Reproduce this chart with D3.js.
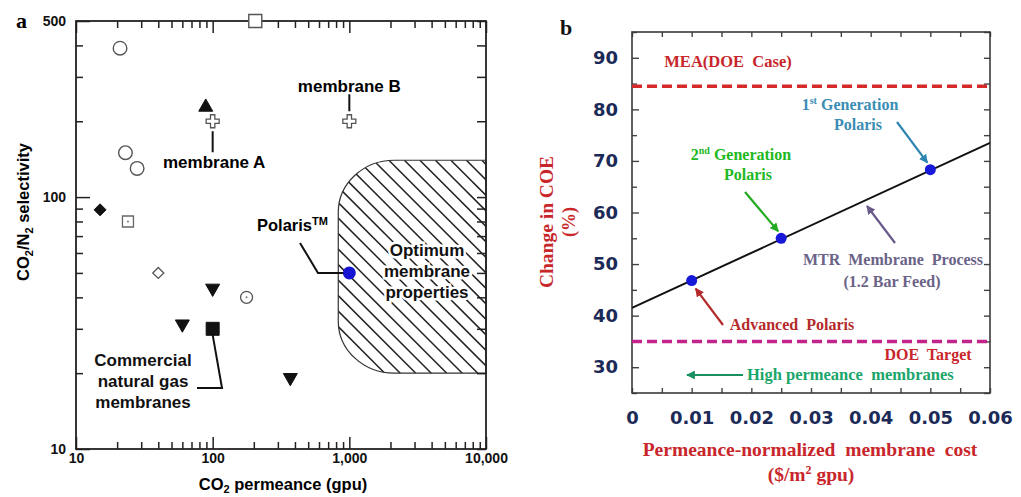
<!DOCTYPE html>
<html>
<head>
<meta charset="utf-8">
<script src="https://cdn.jsdelivr.net/npm/d3@7"></script>
<style>
  body { margin: 0; background: #fff; }
  svg { display: block; }
  text { white-space: pre; }
  .sans { font-family: "Liberation Sans", Arial, sans-serif; font-weight: bold; }
  .serif { font-family: "Liberation Serif", "Times New Roman", serif; font-weight: bold; }
  .num { font-family: "DejaVu Sans", Verdana, sans-serif; font-weight: bold; }
</style>
</head>
<body>
<svg id="fig" width="1021" height="497"></svg>
<script>
// ---- panel a : CO2/N2 selectivity vs CO2 permeance (one array per marker series)
const openCircles = [[21, 390], [23, 150], [28, 130]];
const dottedCircles = [[177, 40]];
const openSquares = [[205, 500]];
const dottedSquares = [[24, 80]];
const triUp = [[89, 230]];
const triDown = [[100, 43], [60, 31], [370, 19]];
const filledSquares = [[100, 30]];
const filledDiamonds = [[15, 89]];
const openDiamonds = [[40, 50]];
const membranes = [[100, 200], [1000, 200]];   // membrane A, membrane B
const polaris = [[1000, 50]];
const optimumPerm = [830, 10000];
const optimumSel = [20, 140];
const xMajorA = [10, 100, 1000, 10000];
const yMajorA = [10, 100, 500];

// ---- panel b : change in COE vs membrane cost
const costB = [0.01, 0.025, 0.05];
const coeB = [46.8, 55.0, 68.3];
const fitCost = [0, 0.06];
const fitCoe = [41.5, 73.5];
const meaCase = 84.5;
const doeTarget = 35;
const xTicksB = [0, 0.01, 0.02, 0.03, 0.04, 0.05, 0.06];
const yTicksB = [30, 40, 50, 60, 70, 80, 90];

const svg = d3.select('#fig');

// ================= panel a =================
const xA = d3.scaleLog().domain([10, 10000]).range([76, 486]);
const yA = d3.scaleLog().domain([10, 500]).range([449, 21]);

const minorXA = [];
[10, 100, 1000].forEach(b => { for (let k = 2; k <= 9; k++) minorXA.push(b * k); });
const minorYA = [];
[10, 100].forEach(b => { for (let k = 2; k <= 9; k++) if (b * k < 500) minorYA.push(b * k); });
const allXA = xMajorA.concat(minorXA);
const allYA = yMajorA.concat(minorYA);
const majX = d => xMajorA.includes(d);
const majY = d => yMajorA.includes(d);

const gA = svg.append('g');

// hatched "optimum" region
const L = xA(optimumPerm[0]), R = xA(optimumPerm[1]);
const T = yA(optimumSel[1]), B = yA(optimumSel[0]);
const rx = 56, ry = 52;
const regionPath = `M${R},${T} H${L + rx} A${rx},${ry} 0 0 0 ${L},${T + ry} V${B - ry} A${rx},${ry} 0 0 0 ${L + rx},${B} H${R} Z`;
svg.append('defs').append('clipPath').attr('id', 'optClip').append('path').attr('d', regionPath);
const hatch = gA.append('g').attr('clip-path', 'url(#optClip)');
const H = B - T;
d3.range(L - H, R + 16, 15.5).forEach(x0 => {
  hatch.append('line').attr('x1', x0).attr('y1', T).attr('x2', x0 + H).attr('y2', B)
    .attr('stroke', '#222').attr('stroke-width', 1.5);
});
gA.append('path').attr('d', regionPath).attr('fill', 'none').attr('stroke', '#333').attr('stroke-width', 1.2);

// axes (ticks inward on all four sides)
const fmtA = d3.format(',');
const bottomA = gA.append('g').attr('transform', `translate(0,${yA(10)})`)
  .call(d3.axisBottom(xA).tickValues(allXA).tickSize(0).tickPadding(4)
    .tickFormat(d => majX(d) ? fmtA(d) : ''));
bottomA.selectAll('.tick line').attr('y2', d => majX(d) ? -12 : -7);
const topA = gA.append('g').attr('transform', `translate(0,${yA(500)})`)
  .call(d3.axisTop(xA).tickValues(allXA).tickSize(0).tickFormat(''));
topA.selectAll('.tick line').attr('y2', d => majX(d) ? 12 : 7);
const leftA = gA.append('g').attr('transform', `translate(${xA(10)},0)`)
  .call(d3.axisLeft(yA).tickValues(allYA).tickSize(0).tickPadding(10)
    .tickFormat(d => majY(d) ? d : ''));
leftA.selectAll('.tick line').attr('x2', d => majY(d) ? 14 : 7);
const rightA = gA.append('g').attr('transform', `translate(${xA(10000)},0)`)
  .call(d3.axisRight(yA).tickValues(allYA).tickSize(0).tickFormat(''));
rightA.selectAll('.tick line').attr('x2', -9);
[bottomA, topA, leftA, rightA].forEach(a => {
  a.select('.domain').remove();
  a.selectAll('.tick line').attr('stroke', '#222').attr('stroke-width', 1.5);
  a.selectAll('text').attr('class', 'sans').attr('font-size', 14).attr('fill', '#111');
});
gA.append('rect').attr('x', xA(10)).attr('y', yA(500))
  .attr('width', xA(10000) - xA(10)).attr('height', yA(10) - yA(500))
  .attr('fill', 'none').attr('stroke', '#222').attr('stroke-width', 1.8);

// markers
function shape(kind, r) {
  if (kind === 'square') return `M${-r},${-r}H${r}V${r}H${-r}Z`;
  if (kind === 'diamond') return `M0,${-r}L${r},0L0,${r}L${-r},0Z`;
  if (kind === 'up') return `M0,${-r}L${r},${r * 0.75}L${-r},${r * 0.75}Z`;
  if (kind === 'down') return `M0,${r}L${r},${-r * 0.75}L${-r},${-r * 0.75}Z`;
  if (kind === 'cross') {
    const a = r / 3;
    return `M${-a},${-r}H${a}V${-a}H${r}V${a}H${a}V${r}H${-a}V${a}H${-r}V${-a}H${-a}Z`;
  }
  return d3.symbol(d3.symbolCircle, Math.PI * r * r)();
}
function drawSeries(data, kind, r, fill, stroke, sw, dot) {
  const g = gA.append('g');
  g.selectAll('path').data(data).join('path')
    .attr('transform', d => `translate(${xA(d[0])},${yA(d[1])})`)
    .attr('d', shape(kind, r))
    .attr('fill', fill).attr('stroke', stroke).attr('stroke-width', sw);
  if (dot) {
    g.selectAll('circle').data(data).join('circle')
      .attr('cx', d => xA(d[0])).attr('cy', d => yA(d[1])).attr('r', 1).attr('fill', '#777');
  }
}
drawSeries(openCircles, 'circle', 6.8, '#fff', '#555', 1.4);
drawSeries(dottedCircles, 'circle', 6, '#fff', '#555', 1.3, true);
drawSeries(openSquares, 'square', 6.5, '#fff', '#555', 1.4);
drawSeries(dottedSquares, 'square', 5.5, '#fff', '#666', 1.3, true);
drawSeries(triUp, 'up', 7, '#111', '#111', 1);
drawSeries(triDown, 'down', 7, '#111', '#111', 1);
drawSeries(filledSquares, 'square', 6.5, '#111', '#111', 1);
drawSeries(filledDiamonds, 'diamond', 6, '#111', '#111', 1);
drawSeries(openDiamonds, 'diamond', 5.5, '#fff', '#555', 1.3);
drawSeries(membranes, 'cross', 6.5, '#fff', '#555', 1.3);
gA.append('g').selectAll('circle').data(polaris).join('circle')
  .attr('cx', d => xA(d[0])).attr('cy', d => yA(d[1])).attr('r', 6.5).attr('fill', '#1414d2');

// annotations panel a
const ink = { stroke: '#111', 'stroke-width': 2, fill: 'none' };
function poly(g, pts) {
  const p = g.append('path').attr('d', d3.line()(pts));
  Object.entries(ink).forEach(([k, v]) => p.attr(k, v));
}
const mA = membranes[0], mB = membranes[1];
poly(gA, [[xA(mA[0]), yA(mA[1]) + 10], [xA(mA[0]), yA(mA[1]) + 31]]);
poly(gA, [[xA(mB[0]), yA(mB[1]) - 27], [xA(mB[0]), yA(mB[1]) - 10]]);
gA.append('text').attr('class', 'sans').attr('font-size', 17).attr('x', 163).attr('y', 168).text('membrane A');
gA.append('text').attr('class', 'sans').attr('font-size', 17).attr('x', xA(mB[0])).attr('y', 92)
  .attr('text-anchor', 'middle').text('membrane B');

const pol = polaris[0];
poly(gA, [[300, 243], [318, yA(pol[1])], [xA(pol[0]) - 6, yA(pol[1])]]);
const polT = gA.append('text').attr('class', 'sans').attr('font-size', 16.5).attr('x', 257).attr('y', 231);
polT.append('tspan').text('Polaris');
polT.append('tspan').attr('font-size', 11).attr('dy', -6).text('TM');

const opt = gA.append('text').attr('class', 'sans').attr('font-size', 17).attr('text-anchor', 'middle')
  .attr('stroke', '#fff').attr('stroke-width', 5).attr('paint-order', 'stroke').attr('fill', '#111');
['Optimum', 'membrane', 'properties'].forEach((s, i) =>
  opt.append('tspan').attr('x', 427).attr('y', 256 + i * 21).text(s));

const fs = filledSquares[0];
poly(gA, [[xA(fs[0]), yA(fs[1]) + 6], [222, 388], [197, 388]]);
const com = gA.append('text').attr('class', 'sans').attr('font-size', 17).attr('text-anchor', 'middle').attr('fill', '#111');
['Commercial', 'natural gas', 'membranes'].forEach((s, i) =>
  com.append('tspan').attr('x', 143).attr('y', 366 + i * 21).text(s));

// titles panel a
gA.append('text').attr('class', 'serif').attr('font-size', 22).attr('x', 16).attr('y', 28).text('a');
const xtA = gA.append('text').attr('class', 'sans').attr('font-size', 16.5)
  .attr('x', 283).attr('y', 490).attr('text-anchor', 'middle');
xtA.append('tspan').text('CO');
xtA.append('tspan').attr('font-size', 11).attr('dy', 3).text('2');
xtA.append('tspan').attr('dy', -3).text(' permeance (gpu)');
const ytA = gA.append('text').attr('class', 'sans').attr('font-size', 16.5)
  .attr('transform', 'translate(29,212) rotate(-90)').attr('text-anchor', 'middle');
ytA.append('tspan').text('CO');
ytA.append('tspan').attr('font-size', 11).attr('dy', 4).text('2');
ytA.append('tspan').attr('dy', -4).text('/N');
ytA.append('tspan').attr('font-size', 11).attr('dy', 4).text('2');
ytA.append('tspan').attr('dy', -4).text(' selectivity');

// ================= panel b =================
const xB = d3.scaleLinear().domain([0, 0.06]).range([632, 990]);
const yB = d3.scaleLinear().domain([25, 95]).range([393, 32]);
const gB = svg.append('g');

const minorXB = d3.range(0, 13).map(i => i * 0.005);
const minorYB = d3.range(25, 96, 5);
const isMajXB = d => Math.round(d * 1000) % 10 === 0;
const isMajYB = d => d % 10 === 0;
const navy = '#1b2a57';

const bottomB = gB.append('g').attr('transform', `translate(0,${yB(25)})`)
  .call(d3.axisBottom(xB).tickValues(minorXB).tickSize(0).tickPadding(18)
    .tickFormat(d => isMajXB(d) ? (d === 0 ? '0' : d.toFixed(2)) : ''));
bottomB.selectAll('.tick line').attr('y2', -5);
const topB = gB.append('g').attr('transform', `translate(0,${yB(95)})`)
  .call(d3.axisTop(xB).tickValues(minorXB).tickSize(0).tickFormat(''));
topB.selectAll('.tick line').attr('y2', 5);
const leftB = gB.append('g').attr('transform', `translate(${xB(0)},0)`)
  .call(d3.axisLeft(yB).tickValues(minorYB).tickSize(0).tickPadding(14)
    .tickFormat(d => yTicksB.includes(d) ? d : ''));
leftB.selectAll('.tick line').attr('x2', d => isMajYB(d) ? 7 : 5);
const rightB = gB.append('g').attr('transform', `translate(${xB(0.06)},0)`)
  .call(d3.axisRight(yB).tickValues(minorYB).tickSize(0).tickFormat(''));
rightB.selectAll('.tick line').attr('x2', -6);
[bottomB, topB, leftB, rightB].forEach(a => {
  a.select('.domain').remove();
  a.selectAll('.tick line').attr('stroke', '#444').attr('stroke-width', 1.4);
  a.selectAll('text').attr('class', 'num').attr('font-size', 18).attr('fill', navy);
});
gB.append('rect').attr('x', xB(0)).attr('y', yB(95))
  .attr('width', xB(0.06) - xB(0)).attr('height', yB(25) - yB(95))
  .attr('fill', 'none').attr('stroke', '#3a3a3a').attr('stroke-width', 1.6);

// reference levels
gB.append('line').attr('x1', xB(0)).attr('x2', xB(0.06)).attr('y1', yB(meaCase)).attr('y2', yB(meaCase))
  .attr('stroke', '#d42a2a').attr('stroke-width', 3.5).attr('stroke-dasharray', '10,5');
gB.append('line').attr('x1', xB(0)).attr('x2', xB(0.06)).attr('y1', yB(doeTarget)).attr('y2', yB(doeTarget))
  .attr('stroke', '#c2248c').attr('stroke-width', 3.5).attr('stroke-dasharray', '10,5');

// cost line and Polaris points
gB.append('path').datum(d3.zip(fitCost, fitCoe))
  .attr('d', d3.line().x(d => xB(d[0])).y(d => yB(d[1])))
  .attr('stroke', '#111').attr('stroke-width', 2).attr('fill', 'none');
gB.selectAll('.pt').data(d3.zip(costB, coeB)).join('circle').attr('class', 'pt')
  .attr('cx', d => xB(d[0])).attr('cy', d => yB(d[1])).attr('r', 5.5).attr('fill', '#1818d8');

// arrows
const defs = svg.select('defs');
function arrow(id, color, x1, y1, x2, y2) {
  defs.append('marker').attr('id', id).attr('viewBox', '0 0 10 10').attr('refX', 9).attr('refY', 5)
    .attr('markerWidth', 4).attr('markerHeight', 4).attr('orient', 'auto')
    .append('path').attr('d', 'M0,0L10,5L0,10Z').attr('fill', color);
  gB.append('line').attr('x1', x1).attr('y1', y1).attr('x2', x2).attr('y2', y2)
    .attr('stroke', color).attr('stroke-width', 2.2).attr('marker-end', `url(#${id})`);
}
arrow('arT', '#2e86b0', 897, 122, xB(costB[2]) - 3, yB(coeB[2]) - 7);
arrow('arG', '#22aa22', 745, 192, xB(costB[1]) - 3, yB(coeB[1]) - 7);
arrow('arP', '#6a5a8a', 895, 243, 867, 206);
arrow('arR', '#b52a2a', 723, 325, xB(costB[0]) + 4, yB(coeB[0]) + 8);
arrow('arH', '#189060', 743, 375, 687, 375);

function label(txt, x, y, color, anchor, size) {
  return gB.append('text').attr('class', 'serif').attr('font-size', size || 16)
    .attr('x', x).attr('y', y).attr('fill', color).attr('text-anchor', anchor || 'middle').text(txt);
}
label('MEA(DOE  Case)', 728, 67, '#c8262b', 'middle', 16.5);
const g1 = label('', 850, 110, '#3a8db5');
g1.append('tspan').text('1');
g1.append('tspan').attr('font-size', 10).attr('dy', -6).text('st');
g1.append('tspan').attr('dy', 6).text(' Generation');
label('Polaris', 858, 130, '#3a8db5');
const g2 = label('', 741, 160, '#22b822');
g2.append('tspan').text('2');
g2.append('tspan').attr('font-size', 10).attr('dy', -6).text('nd');
g2.append('tspan').attr('dy', 6).text(' Generation');
label('Polaris', 748, 180, '#22b822');
label('MTR  Membrane  Process', 893, 265, '#6b6388', 'middle', 16);
label('(1.2 Bar Feed)', 892, 287, '#6b6388', 'middle', 16);
label('Advanced  Polaris', 792, 330, '#b52a2a', 'middle', 16);
label('DOE  Target', 928, 360, '#c8262b', 'middle', 16);
label('High permeance  membranes', 747, 380, '#1aa56a', 'start', 16.5);

// titles panel b
label('b', 560, 35, '#111', 'start', 22);
label('Permeance-normalized  membrane  cost', 810, 456, '#c8262b', 'middle', 19.5);
const xtB = label('', 811, 481, '#c8262b', 'middle', 19.5);
xtB.append('tspan').text('($/m');
xtB.append('tspan').attr('font-size', 12).attr('dy', -7).text('2');
xtB.append('tspan').attr('dy', 7).text(' gpu)');
gB.append('text').attr('class', 'serif').attr('font-size', 19.5).attr('fill', '#c8262b')
  .attr('text-anchor', 'middle').attr('transform', 'translate(553,222) rotate(-90)').text('Change in COE');
gB.append('text').attr('class', 'serif').attr('font-size', 18).attr('fill', '#c8262b')
  .attr('text-anchor', 'middle').attr('transform', 'translate(575,222) rotate(-90)').text('(%)');
</script>
</body>
</html>
